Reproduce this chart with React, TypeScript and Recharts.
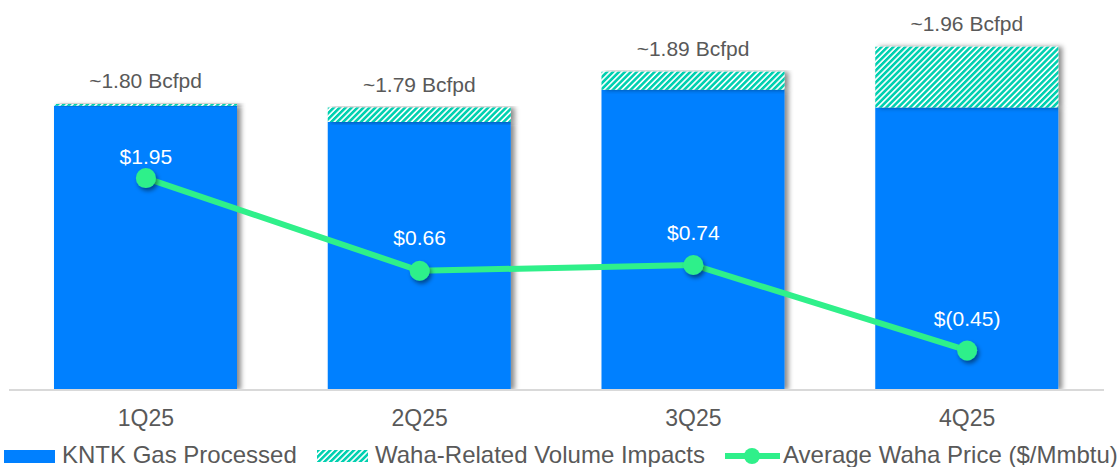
import React from 'react';
import { ComposedChart, Bar, Line, XAxis, YAxis, LabelList, Rectangle } from 'recharts';

// Quarterly gas volumes (Bcfpd) and Waha hub price ($/Mmbtu)
const quarters = ['1Q25', '2Q25', '3Q25', '4Q25'];
const gasProcessed = [1.795, 1.75, 1.84, 1.79];
const wahaImpacts = [0.005, 0.04, 0.05, 0.17];
const wahaPrice = [1.95, 0.66, 0.74, -0.45];

const data = quarters.map((q, i) => ({
  quarter: q,
  processed: gasProcessed[i],
  impact: wahaImpacts[i],
  total: Math.round((gasProcessed[i] + wahaImpacts[i]) * 100) / 100,
  price: wahaPrice[i],
}));

const BLUE = '#0080FF';
const TEAL = '#00D0B0';
const GREEN = '#2FF08A';
const GRAY_TEXT = '#595959';
const FONT = '"Liberation Sans", Arial, sans-serif';

// vertical gap between each price point and its label
const priceLabelGap = [14, 26, 25, 24];

const formatPrice = (v: number) =>
  v < 0 ? `$(${Math.abs(v).toFixed(2)})` : `$${v.toFixed(2)}`;

const ShadowBar = (props: any) => <Rectangle {...props} filter="url(#barShadow)" />;

const PriceDot = (props: any) => {
  const { cx, cy, index } = props;
  if (cx == null || cy == null) return null;
  return <circle key={`dot-${index}`} cx={cx} cy={cy} r={10} fill={GREEN} filter="url(#dotShadow)" />;
};

const PriceLabel = (props: any) => {
  const { x, y, value, index } = props;
  return (
    <text
      x={x}
      y={y - priceLabelGap[index]}
      textAnchor="middle"
      fill="#FFFFFF"
      fontSize={21}
      fontFamily={FONT}
    >
      {formatPrice(value)}
    </text>
  );
};

const TotalLabel = (props: any) => {
  const { x, y, width, index } = props;
  return (
    <text
      x={x + width / 2}
      y={y - 16}
      textAnchor="middle"
      fill={GRAY_TEXT}
      fontSize={21}
      fontFamily={FONT}
    >
      {`~${data[index].total.toFixed(2)} Bcfpd`}
    </text>
  );
};

const HatchPattern = ({ id }: { id: string }) => (
  <pattern id={id} width="4.2" height="4.2" patternUnits="userSpaceOnUse" patternTransform="rotate(45)">
    <rect width="4.2" height="4.2" fill="#FFFFFF" />
    <rect width="2.6" height="4.2" fill={TEAL} />
  </pattern>
);

const Legend = () => (
  <svg
    width={1119}
    height={30}
    style={{ position: 'absolute', left: 0, top: 440 }}
    fontFamily={FONT}
  >
    <defs>
      <HatchPattern id="legendHatch" />
    </defs>
    <rect x={4} y={10} width={51} height={13} fill={BLUE} />
    <text x={62} y={23} fontSize={24} fill={GRAY_TEXT}>KNTK Gas Processed</text>
    <rect x={317} y={10} width={51} height={12} fill="url(#legendHatch)" />
    <text x={375} y={23} fontSize={24} fill={GRAY_TEXT}>Waha-Related Volume Impacts</text>
    <line x1={725} y1={16} x2={780} y2={16} stroke={GREEN} strokeWidth={6} />
    <circle cx={752} cy={16} r={8} fill={GREEN} />
    <text x={783} y={23} fontSize={24} fill={GRAY_TEXT}>Average Waha Price ($/Mmbtu)</text>
  </svg>
);

export default function App() {
  return (
    <div style={{ position: 'absolute', left: 0, top: 0, width: 1119, height: 467, background: '#FFFFFF' }}>
      <ComposedChart
        width={1119}
        height={467}
        data={data}
        margin={{ top: 20, right: 15, left: 9, bottom: 0 }}
      >
        <defs>
          <HatchPattern id="hatch" />
          <filter id="barShadow" x="-10%" y="-10%" width="130%" height="130%">
            <feDropShadow dx="4" dy="0" stdDeviation="2.5" floodColor="#000000" floodOpacity="0.45" />
          </filter>
          <filter id="dotShadow" x="-50%" y="-50%" width="200%" height="200%">
            <feDropShadow dx="2" dy="3" stdDeviation="2" floodColor="#000000" floodOpacity="0.45" />
          </filter>
        </defs>
        <XAxis
          dataKey="quarter"
          height={77}
          axisLine={{ stroke: '#D9D9D9', strokeWidth: 2 }}
          tickLine={false}
          tickMargin={14}
          tick={{ fontSize: 23, fill: GRAY_TEXT, fontFamily: FONT }}
        />
        <YAxis yAxisId="vol" hide domain={[1.0, 2.035]} allowDataOverflow />
        <YAxis yAxisId="price" orientation="right" hide domain={[-1.0, 4.15]} allowDataOverflow />
        <Bar
          yAxisId="vol"
          dataKey="processed"
          stackId="gas"
          fill={BLUE}
          barSize={183}
          shape={ShadowBar}
          isAnimationActive={false}
        />
        <Bar
          yAxisId="vol"
          dataKey="impact"
          stackId="gas"
          fill="url(#hatch)"
          barSize={183}
          shape={ShadowBar}
          isAnimationActive={false}
        >
          <LabelList dataKey="total" content={TotalLabel} />
        </Bar>
        <Line
          yAxisId="price"
          type="linear"
          dataKey="price"
          stroke={GREEN}
          strokeWidth={6}
          dot={PriceDot}
          activeDot={false}
          isAnimationActive={false}
        >
          <LabelList dataKey="price" content={PriceLabel} />
        </Line>
      </ComposedChart>
      <Legend />
    </div>
  );
}
